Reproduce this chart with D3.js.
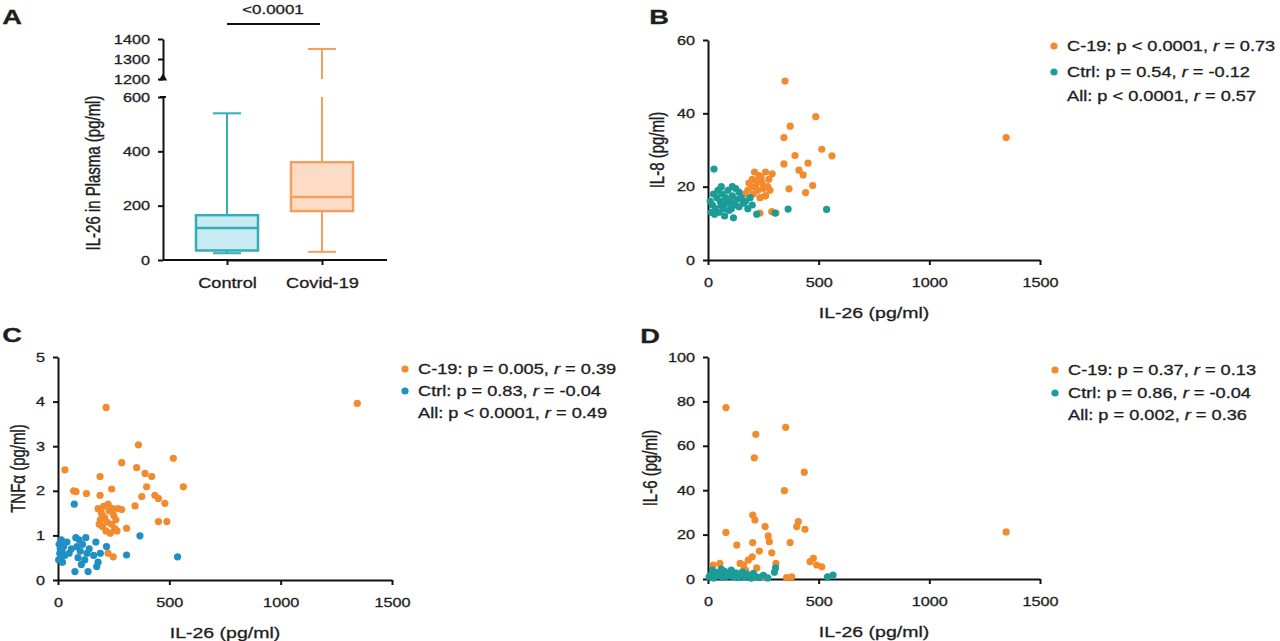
<!DOCTYPE html>
<html>
<head>
<meta charset="utf-8">
<script src="https://cdn.jsdelivr.net/npm/d3@7"></script>
<style>
  body { margin: 0; background: #fff; }
  svg { display: block; }
  text { font-family: "Liberation Sans", Arial, sans-serif; fill: #1e1e1e; stroke: #1e1e1e; stroke-width: 0.3px; }
</style>
</head>
<body>
<svg id="chart" width="1280" height="641"></svg>
<script>
// ---- data ----
var boxCategories = ["Control", "Covid-19"];
var boxMin    = [25, 30];
var boxQ1     = [35, 180];
var boxMedian = [118, 232];
var boxQ3     = [165, 360];
var boxMax    = [540, 1350];
var pValueA   = "<0.0001";

var xTicksIL26 = [0, 500, 1000, 1500];
var yTicksA_low  = [0, 200, 400, 600];
var yTicksA_high = [1200, 1300, 1400];
var yTicksB = [0, 20, 40, 60];
var yTicksC = [0, 1, 2, 3, 4, 5];
var yTicksD = [0, 20, 40, 60, 80, 100];

// panel B: IL-8 vs IL-26
var bCovid = [[348,48.8],[487,39.1],[371,36.5],[343,33.4],[1347,33.4],[514,30.2],[560,28.4],[393,28.5],
  [343,26.2],[452,26.4],[411,24.5],[430,23.2],[473,20.3],[366,19.4],[441,18.4],[258,17.5],[235,12.8],
  [307,12.8],[288,13.2],[185,21],[200,22],[215,20],[230,23],[245,21],[260,24],[275,22],[290,23.5],
  [205,18],[225,19],[250,19.5],[180,19],[235,17],[270,20],[210,24],[195,20],[260,17.5],[240,22.5],
  [220,21.5],[280,19],[165,18]];
var bCtrl = [[27,24.8],[362,13.9],[536,13.8],[220,12.5],[303,12.8],[10,16],[20,15],[25,18],[35,14],
  [40,17],[45,19],[50,13],[55,16],[60,15],[65,18],[70,14],[75,12],[80,17],[85,15.5],[90,19],[95,13.5],
  [100,16],[105,14],[110,17.5],[115,11.5],[120,15],[125,19.5],[130,16.5],[140,14.5],[150,17],
  [160,15.5],[170,16],[180,14],[190,17],[200,15],[30,12.5],[60,20],[15,13],[110,20],[140,18.5]];

// panel C: TNFa vs IL-26
var cCovid = [[216,3.87],[1344,3.96],[361,3.03],[518,2.73],[286,2.63],[31,2.47],[353,2.52],[391,2.39],
  [421,2.32],[189,2.32],[563,2.09],[398,2.09],[81,1.98],[128,1.94],[189,1.9],[241,2.04],[435,1.9],
  [451,1.83],[376,1.87],[480,1.72],[346,1.66],[286,1.58],[451,1.31],[489,1.31],[308,1.16],[248,0.52],
  [225,0.6],[180,1.6],[195,1.5],[210,1.4],[220,1.3],[230,1.55],[240,1.25],[250,1.45],[200,1.2],
  [215,1.1],[260,1.35],[270,1.6],[190,1.35],[225,1.7],[255,1.15],[235,1.05],[205,1.65],[70,2.0],
  [185,1.25],[245,1.6],[265,1.1],[200,1.45]];
var cCtrl = [[73,1.7],[368,0.99],[308,0.56],[537,0.52],[218,0.75],[76,0.19],[135,0.19],[174,0.3],
  [5,0.8],[8,0.6],[10,0.7],[12,0.5],[15,0.9],[18,0.65],[20,0.4],[25,0.75],[30,0.55],[40,0.85],
  [50,0.6],[60,0.7],[80,0.95],[90,0.5],[100,0.65],[110,0.8],[120,0.45],[130,0.6],[140,0.7],
  [160,0.55],[170,0.85],[180,0.4],[190,0.6],[85,0.75],[95,0.9],[105,0.35],[125,0.95],[3,0.45]];

// panel D: IL-6 vs IL-26
var dCovid = [[81,77.2],[351,68.3],[216,65.2],[209,54.6],[435,48.1],[345,39.8],[1347,21.2],[202,28.8],
  [212,26.6],[408,25.8],[438,22.4],[401,23.6],[258,23.6],[81,21],[272,19.4],[277,16.8],[371,16.4],
  [130,15.3],[202,16.4],[232,12.6],[288,11.8],[476,9.3],[461,7.8],[491,6.3],[514,5.5],[307,7.0],
  [54,7.0],[24,6.3],[145,7],[182,8.5],[160,6.3],[250,1],[355,0.6],[378,1],[200,10],[220,5],[170,4]];
var dCtrl = [[5,1],[15,2],[25,0.5],[35,3],[45,1.5],[55,2.5],[65,0.8],[75,3.5],[85,1.2],[95,2],
  [105,4],[115,1],[125,2.8],[135,0.6],[145,1.8],[155,3.2],[165,0.9],[175,2.2],[185,1.4],[195,0.4],
  [205,2.6],[215,1.1],[230,0.7],[250,1.6],[270,0.5],[300,3],[305,5],[540,1],[565,1.8],[20,4],
  [60,4.5],[110,3]];

// legend entries: [label, p part, r value]
var legendB = [["C-19", "p < 0.0001", "0.73"], ["Ctrl", "p = 0.54", "-0.12"], ["All", "p < 0.0001", "0.57"]];
var legendC = [["C-19", "p = 0.005", "0.39"], ["Ctrl", "p = 0.83", "-0.04"], ["All", "p < 0.0001", "0.49"]];
var legendD = [["C-19", "p = 0.37", "0.13"], ["Ctrl", "p = 0.86", "-0.04"], ["All", "p = 0.002", "0.36"]];

// ---- styles ----
var SX = 1.3;   // the figure's text is stretched sideways
var ORANGE = "#f28a2e";
var TEAL = "#1c9c98";
var BLUE = "#1f8fc4";

var svg = d3.select("#chart");

// text helper; stretches horizontally like the reference
function label(g, x, y, s, o) {
    o = o || {};
    var t = "translate(" + x + "," + y + ")";
    t += o.rotate ? " rotate(-90) scale(1," + SX + ")" : " scale(" + SX + ",1)";
    return g.append("text")
        .attr("transform", t)
        .attr("text-anchor", o.anchor || "middle")
        .attr("dominant-baseline", "central")
        .style("font-size", (o.size || 15) + "px")
        .style("font-weight", o.weight || "normal")
        .text(s);
}

function styleAxis(sel) {
    sel.select(".domain").attr("stroke", "#111").attr("stroke-width", 2);
    sel.selectAll(".tick line").attr("stroke", "#111").attr("stroke-width", 2);
    sel.selectAll(".tick text")
        .style("font-size", "12.5px")
        .attr("fill", "#1e1e1e")
        .attr("transform", "scale(" + SX + ",1)");
}

var fmt = d3.format("d");

function scatterPanel(o) {
    var g = svg.append("g");
    var x = d3.scaleLinear().domain([0, 1500]).range([o.x0, o.x1]);
    var y = d3.scaleLinear().domain(o.yDomain).range([o.y1, o.y0]);

    g.append("g").attr("transform", "translate(0," + o.y1 + ")")
        .call(d3.axisBottom(x).tickValues(xTicksIL26).tickFormat(fmt)
            .tickSize(5).tickPadding(13).tickSizeOuter(0))
        .call(styleAxis);
    g.append("g").attr("transform", "translate(" + o.x0 + ",0)")
        .call(d3.axisLeft(y).tickValues(o.yTicks).tickFormat(fmt)
            .tickSize(5).tickPadding(5).tickSizeOuter(0))
        .call(styleAxis);

    g.append("g").selectAll("circle").data(o.covid).enter().append("circle")
        .attr("cx", function (d) { return x(d[0]); })
        .attr("cy", function (d) { return y(d[1]); })
        .attr("r", 3.6).attr("fill", ORANGE);
    g.append("g").selectAll("circle").data(o.ctrl).enter().append("circle")
        .attr("cx", function (d) { return x(d[0]); })
        .attr("cy", function (d) { return y(d[1]); })
        .attr("r", 3.6).attr("fill", o.ctrlColor);

    label(g, (o.x0 + o.x1) / 2, o.y1 + 53, "IL-26 (pg/ml)");
    label(g, o.yLabelX, (o.y0 + o.y1) / 2, o.yLabel, { rotate: true });

    // legend
    var colors = [ORANGE, o.ctrlColor, null];
    o.legend.forEach(function (e, i) {
        var ly = o.legendY[i];
        if (colors[i]) {
            g.append("circle").attr("cx", o.legendX).attr("cy", ly).attr("r", 3.6)
                .attr("fill", colors[i]);
        }
        var t = label(g, o.legendX + 13, ly, "", { anchor: "start", size: 14 });
        t.append("tspan").text(e[0] + ": " + e[1] + ", ");
        t.append("tspan").style("font-style", "italic").text("r");
        t.append("tspan").text(" = " + e[2]);
    });

    label(g, o.letterX, o.letterY, o.letter, { size: 21, weight: "bold" });
}

// ---- panel A: box plot with broken y axis ----
(function () {
    var g = svg.append("g");
    var axX = 163, baseY = 260;
    var yLow = d3.scaleLinear().domain([0, 600]).range([baseY, 97]);
    var yHigh = d3.scaleLinear().domain([1200, 1400]).range([79, 39]);
    var x = d3.scalePoint().domain(boxCategories).range([227, 322]);
    var yv = function (v) { return v <= 600 ? yLow(v) : yHigh(v); };

    g.append("g").attr("transform", "translate(0," + baseY + ")")
        .call(d3.axisBottom(x).tickSize(5).tickPadding(13).tickSizeOuter(0))
        .call(styleAxis);
    g.append("line").attr("x1", axX).attr("x2", 387).attr("y1", baseY).attr("y2", baseY)
        .attr("stroke", "#111").attr("stroke-width", 2);
    g.selectAll(".tick text").style("font-size", "14px");

    g.append("g").attr("transform", "translate(" + axX + ",0)")
        .call(d3.axisLeft(yLow).tickValues(yTicksA_low).tickFormat(fmt)
            .tickSize(5).tickPadding(5).tickSizeOuter(0))
        .call(styleAxis);
    g.append("g").attr("transform", "translate(" + axX + ",0)")
        .call(d3.axisLeft(yHigh).tickValues(yTicksA_high).tickFormat(fmt)
            .tickSize(5).tickPadding(5).tickSizeOuter(0))
        .call(styleAxis);

    // break marks
    g.append("path").attr("d", d3.symbol(d3.symbolTriangle, 30)())
        .attr("transform", "translate(" + axX + "," + (yHigh(1200) - 1) + ")").attr("fill", "#111");
    g.append("line").attr("x1", axX - 3).attr("x2", axX + 3).attr("y1", yLow(600)).attr("y2", yLow(600))
        .attr("stroke", "#111").attr("stroke-width", 2);

    var stroke = ["#34adb5", "#f4a05c"];
    var fill = ["#c8eaf3", "#fcdcc6"];
    var bw = 62, cap = 28;

    boxCategories.forEach(function (c, i) {
        var cx = x(c);
        var col = stroke[i];
        if (boxMax[i] > 600) {
            g.append("line").attr("x1", cx).attr("x2", cx).attr("y1", yv(boxQ3[i])).attr("y2", yLow(600))
                .attr("stroke", col).attr("stroke-width", 2);
            g.append("line").attr("x1", cx).attr("x2", cx).attr("y1", yHigh(1200)).attr("y2", yHigh(boxMax[i]))
                .attr("stroke", col).attr("stroke-width", 2);
        } else {
            g.append("line").attr("x1", cx).attr("x2", cx).attr("y1", yv(boxQ3[i])).attr("y2", yv(boxMax[i]))
                .attr("stroke", col).attr("stroke-width", 2);
        }
        g.append("line").attr("x1", cx).attr("x2", cx).attr("y1", yv(boxQ1[i])).attr("y2", yv(boxMin[i]))
            .attr("stroke", col).attr("stroke-width", 2);
        [boxMin[i], boxMax[i]].forEach(function (v) {
            g.append("line").attr("x1", cx - cap / 2).attr("x2", cx + cap / 2)
                .attr("y1", yv(v)).attr("y2", yv(v)).attr("stroke", col).attr("stroke-width", 2);
        });
        g.append("rect").attr("x", cx - bw / 2).attr("width", bw)
            .attr("y", yv(boxQ3[i])).attr("height", yv(boxQ1[i]) - yv(boxQ3[i]))
            .attr("fill", fill[i]).attr("stroke", col).attr("stroke-width", 2.5);
        g.append("line").attr("x1", cx - bw / 2).attr("x2", cx + bw / 2)
            .attr("y1", yv(boxMedian[i])).attr("y2", yv(boxMedian[i]))
            .attr("stroke", col).attr("stroke-width", 2.5);
    });

    // significance bar
    g.append("line").attr("x1", x(boxCategories[0])).attr("x2", x(boxCategories[1]) - 2)
        .attr("y1", 24).attr("y2", 24).attr("stroke", "#111").attr("stroke-width", 2);
    label(g, 273, 9, pValueA, { size: 13 });

    label(g, 93, 173, "IL-26 in Plasma (pg/ml)", { rotate: true });
    label(g, 12, 17, "A", { size: 21, weight: "bold" });
})();

scatterPanel({ x0: 708, x1: 1040, y0: 40, y1: 260, yDomain: [0, 60], yTicks: yTicksB,
    covid: bCovid, ctrl: bCtrl, ctrlColor: TEAL, yLabel: "IL-8 (pg/ml)", yLabelX: 657,
    legend: legendB, legendX: 1054, legendY: [46, 72, 96], letter: "B", letterX: 659, letterY: 17 });

scatterPanel({ x0: 58, x1: 392, y0: 357, y1: 580, yDomain: [0, 5], yTicks: yTicksC,
    covid: cCovid, ctrl: cCtrl, ctrlColor: BLUE, yLabel: "TNFα (pg/ml)", yLabelX: 18,
    legend: legendC, legendX: 405, legendY: [369, 391, 413], letter: "C", letterX: 12, letterY: 335 });

scatterPanel({ x0: 708, x1: 1040, y0: 357, y1: 579, yDomain: [0, 100], yTicks: yTicksD,
    covid: dCovid, ctrl: dCtrl, ctrlColor: TEAL, yLabel: "IL-6 (pg/ml)", yLabelX: 650,
    legend: legendD, legendX: 1055, legendY: [370, 393, 415], letter: "D", letterX: 650, letterY: 336 });
</script>
</body>
</html>
